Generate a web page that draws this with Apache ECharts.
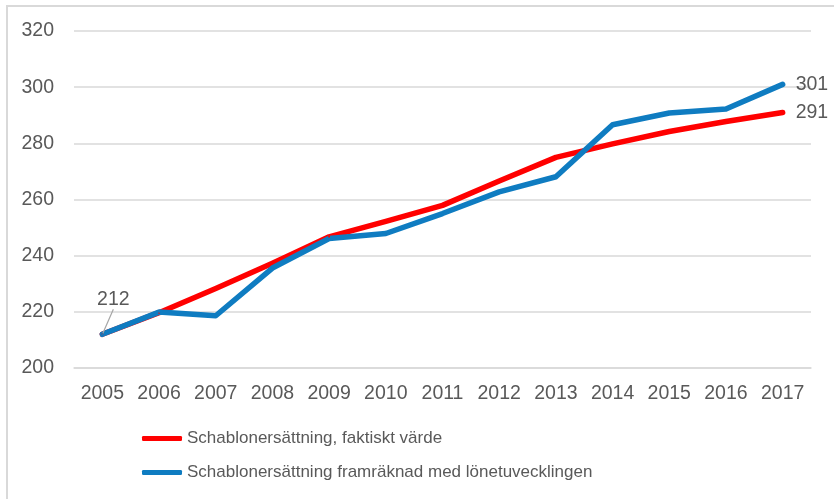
<!DOCTYPE html>
<html>
<head>
<meta charset="utf-8">
<script src="https://cdn.jsdelivr.net/npm/echarts@6/dist/echarts.min.js"></script>
<style>
  html, body { margin: 0; padding: 0; background: #fff; }
  #chart { width: 834px; height: 499px; }
  #frame {
    position: absolute; left: 6px; top: 5px; width: 900px; height: 600px;
    border-left: 2px solid #d9d9d9; border-top: 2px solid #d9d9d9;
    pointer-events: none;
  }
</style>
</head>
<body>
<div id="chart"></div>
<div id="frame"></div>
<script>
const years = ["2005", "2006", "2007", "2008", "2009", "2010", "2011", "2012", "2013", "2014", "2015", "2016", "2017"];
const faktiskt = [212, 219.7, 228.3, 237.3, 246.7, 252.2, 257.9, 266.6, 275, 279.8, 284.2, 287.8, 291];
const framraknad = [212, 219.9, 218.6, 235.6, 246.1, 247.9, 255, 262.7, 268.1, 286.6, 290.8, 292.2, 301];
const seriesNames = ["Schablonersättning, faktiskt värde", "Schablonersättning framräknad med lönetuvecklingen"];

const chart = echarts.init(document.getElementById("chart"));
const font = "'Liberation Sans', Arial, sans-serif";
const textColor = "#595959";

// only the last point (and the first of the blue line) carries a label
function withLabels(values, first) {
    return values.map((v, i) => {
        if (i === values.length - 1) {
            return { value: v, label: { show: true, position: "right", distance: 12 } };
        }
        if (first && i === 0) {
            return {
                value: v,
                label: { show: true, position: "top", distance: 0 },
                labelLine: { show: true }
            };
        }
        return v;
    });
}

chart.setOption({
    animation: false,
    textStyle: { fontFamily: font },
    grid: { left: 74, right: 23, top: 31, bottom: 131 },
    legend: {
        orient: "vertical",
        left: 137,
        top: 425,
        itemGap: 17,
        itemWidth: 40,
        itemHeight: 5,
        icon: "roundRect",
        textStyle: { fontSize: 17, color: textColor, fontFamily: font },
        data: seriesNames
    },
    xAxis: {
        type: "category",
        data: years,
        boundaryGap: true,
        axisLine: { lineStyle: { color: "#d9d9d9", width: 1.5 } },
        axisTick: { show: false },
        axisLabel: { fontSize: 19.5, color: textColor, margin: 16 }
    },
    yAxis: {
        type: "value",
        min: 200,
        max: 320,
        interval: 20,
        axisLine: { show: false },
        axisTick: { show: false },
        splitLine: { lineStyle: { color: "#d9d9d9", width: 1.5 } },
        axisLabel: { fontSize: 19.5, color: textColor, margin: 20 }
    },
    series: [
        {
            name: seriesNames[0],
            type: "line",
            data: withLabels(faktiskt, false),
            symbol: "circle",
            symbolSize: 2,
            color: "#ff0000",
            lineStyle: { width: 5.5, color: "#ff0000", cap: "round", join: "round" },
            label: { fontSize: 19.5, color: textColor, fontFamily: font }
        },
        {
            name: seriesNames[1],
            type: "line",
            data: withLabels(framraknad, true),
            symbol: "circle",
            symbolSize: 2,
            color: "#0f7cc1",
            lineStyle: { width: 5.5, color: "#0f7cc1", cap: "round", join: "round" },
            label: { fontSize: 19.5, color: textColor, fontFamily: font },
            labelLine: { lineStyle: { color: "#a6a6a6", width: 1.2 } },
            labelLayout: (params) => params.dataIndex === 0 ? { dx: 11, dy: -24 } : {}
        }
    ]
});
</script>
</body>
</html>
